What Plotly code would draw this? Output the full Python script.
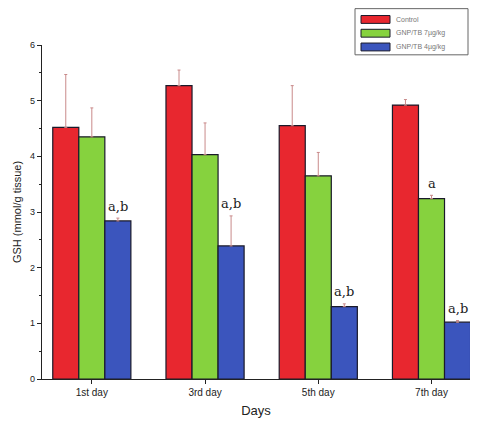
import plotly.graph_objects as go

days = ["1st day", "3rd day", "5th day", "7th day"]
control = [4.52, 5.27, 4.55, 4.92]
control_err = [0.95, 0.28, 0.72, 0.10]
gnp7 = [4.35, 4.03, 3.65, 3.24]
gnp7_err = [0.52, 0.57, 0.42, 0.06]
gnp4 = [2.84, 2.39, 1.30, 1.02]
gnp4_err = [0.05, 0.54, 0.05, 0.03]
gnp7_marks = ["", "", "", "a"]
gnp4_marks = ["a,b", "a,b", "a,b", "a,b"]

series = [
    ("Control", control, control_err, "#e8272f"),
    ("GNP/TB 7µg/kg", gnp7, gnp7_err, "#86d23e"),
    ("GNP/TB 4µg/kg", gnp4, gnp4_err, "#3b55bd"),
]

W, H = 484, 427
ML, MR, MT, MB = 42, 14, 45, 42
PW, PH = W - ML - MR, H - MT - MB


def px(x):
    return (x - ML) / PW


def py(y):
    return (H - MB - y) / PH


fig = go.Figure()
for name, vals, errs, color in series:
    fig.add_trace(go.Bar(
        x=days, y=vals, name=name, showlegend=False,
        marker=dict(color=color, line=dict(color="#1a1a2a", width=1.2)),
        error_y=dict(type="data", array=errs, symmetric=False, arrayminus=[0] * 4,
                     color="#c98a8a", thickness=1, width=1.5),
    ))

# significance letters above the treated groups
for i, d in enumerate(days):
    if gnp7_marks[i]:
        fig.add_annotation(x=d, y=gnp7[i] + gnp7_err[i], text=gnp7_marks[i],
                           xshift=0, yshift=12, showarrow=False,
                           font=dict(family="DejaVu Serif", size=13, color="#222"))
    if gnp4_marks[i]:
        fig.add_annotation(x=d, y=gnp4[i] + gnp4_err[i], text=gnp4_marks[i],
                           xshift=26, yshift=12, showarrow=False,
                           font=dict(family="DejaVu Serif", size=13, color="#222"))

# compact boxed legend in the top-right corner
fig.add_shape(type="rect", xref="paper", yref="paper",
              x0=px(355), x1=px(468), y0=py(55), y1=py(8),
              line=dict(color="#666", width=1), fillcolor="white")
for k, (name, _, _, color) in enumerate(series):
    cy = 19 + 14 * k
    fig.add_shape(type="rect", xref="paper", yref="paper",
                  x0=px(361), x1=px(390), y0=py(cy + 4), y1=py(cy - 4),
                  line=dict(color="#1a1a2a", width=1), fillcolor=color)
    fig.add_annotation(xref="paper", yref="paper", x=px(394), y=py(cy),
                       xanchor="left", yanchor="middle", text=name, showarrow=False,
                       font=dict(size=7, color="#777"))

fig.update_layout(
    width=W, height=H,
    margin=dict(l=ML, r=MR, t=MT, b=MB),
    paper_bgcolor="white", plot_bgcolor="white",
    barmode="group", bargap=0.31, bargroupgap=0,
    font=dict(family="Liberation Sans", size=10, color="#222"),
    xaxis=dict(range=[-0.44, 3.34], showline=True, linecolor="#222", linewidth=1.2,
               ticks="outside", ticklen=4, tickcolor="#222",
               title=dict(text="Days", font=dict(size=13), standoff=8),
               tickfont=dict(size=10)),
    yaxis=dict(range=[0, 6], dtick=1, showline=True, linecolor="#222", linewidth=1.2,
               ticks="outside", ticklen=4, tickcolor="#222", showgrid=False,
               zeroline=False,
               minor=dict(dtick=0.5, ticks="outside", ticklen=2, tickcolor="#222"),
               title=dict(text="GSH (mmol/g tissue)", font=dict(size=11), standoff=6),
               tickfont=dict(size=9)),
)

fig.write_html("out.html")
